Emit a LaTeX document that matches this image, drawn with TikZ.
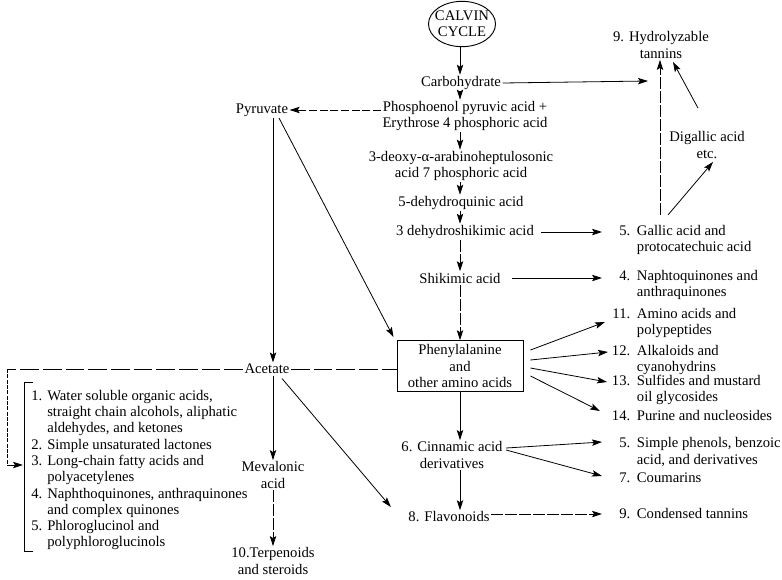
\documentclass[tikz,border=0pt]{standalone}
\usepackage{fontspec}
\setmainfont{Liberation Serif}
\usetikzlibrary{arrows.meta,calc,shapes.geometric}
\newcommand\nb[1]{\makebox[18pt][r]{#1}\hspace{5pt}}
\newcommand\ind{\makebox[23pt]{}}
\newcommand\nl[1]{\makebox[12pt][l]{#1}}
\newcommand\il{\makebox[12pt]{}}
\begin{document}
\begin{tikzpicture}[x=0.75pt,y=-0.75pt,
  every node/.style={font=\fontsize{11}{12.2}\selectfont, inner sep=1pt},
  lbl/.style={align=center},
  itm/.style={align=left, anchor=west, inner sep=0pt},
  arr/.style={-{Stealth[length=7.5pt,width=4.8pt,inset=1.5pt]}, line width=0.6pt},
  ln/.style={line width=0.6pt},
  brk/.style={dash pattern=on 9pt off 1.5pt},
  dsh/.style={dash pattern=on 6pt off 2pt},
  lng/.style={dash pattern=on 14pt off 3pt}]
\useasboundingbox[fill=white] (0,0) rectangle (782,579);

% main column
\node[ellipse, draw, line width=0.7pt, inner xsep=-2.5pt, inner ysep=0pt, minimum height=34pt, align=center] (calvin) at (462,24) {CALVIN\\CYCLE};
\node (carb) at (461,83) {Carbohydrate};
\node[lbl] (pep) at (465,116) {Phosphoenol pyruvic acid +\\Erythrose 4 phosphoric acid};
\node[lbl] (dahp) at (461,166) {3-deoxy-α-arabinoheptulosonic\\acid 7 phosphoric acid};
\node (dhq) at (461,203) {5-dehydroquinic acid};
\node (dhs) at (465,232) {3 dehydroshikimic acid};
\node (shik) at (460,278) {Shikimic acid};
\node[draw, line width=0.7pt, minimum width=94.5pt, minimum height=38pt, align=center] (phe) at (460,366) {Phenylalanine\\and\\other amino acids};
\node[lbl] (cin) at (452,455) {6. Cinnamic acid\\derivatives};
\node (flav) at (449,517) {8. Flavonoids};

% left column
\node (pyr) at (262,110) {Pyruvate};
\node (ace) at (267,369) {Acetate};
\node[lbl] (mev) at (273,475) {Mevalonic\\acid};
\node[lbl] (terp) at (273,561) {10.Terpenoids\\and steroids};

% right column
\node[lbl] (hyd) at (661,45) {9. Hydrolyzable\\tannins};
\node[lbl] (dig) at (707,145) {Digallic acid\\etc.};
\node[itm] (gal) at (606,240) {\nb{5.}Gallic acid and\\\ind protocatechuic acid};
\node[itm] (nap) at (606,285) {\nb{4.}Naphtoquinones and\\\ind anthraquinones};
\node[itm] (i11) at (606,323) {\nb{11.}Amino acids and\\\ind polypeptides};
\node[itm] (i12) at (606,360) {\nb{12.}Alkaloids and\\\ind cyanohydrins};
\node[itm] (i13) at (606,390) {\nb{13.}Sulfides and mustard\\\ind oil glycosides};
\node[itm] (i14) at (606,416) {\nb{14.}Purine and nucleosides};
\node[itm] (sp) at (606,452) {\nb{5.}Simple phenols, benzoic\\\ind acid, and derivatives};
\node[itm] (cou) at (606,478) {\nb{7.}Coumarins};
\node[itm] (ct) at (606,514) {\nb{9.}Condensed tannins};

% left list
\node[anchor=north west, inner sep=0pt, align=left] (lst) at (31,390) {%
\nl{1.}Water soluble organic acids,\\
\il straight chain alcohols, aliphatic\\
\il aldehydes, and ketones\\
\nl{2.}Simple unsaturated lactones\\
\nl{3.}Long-chain fatty acids and\\
\il polyacetylenes\\
\nl{4.}Naphthoquinones, anthraquinones\\
\il and complex quinones\\
\nl{5.}Phloroglucinol and\\
\il polyphloroglucinols};
\draw[line width=0.7pt] ($(lst.north west)+(2,-8)$) -| ($(lst.south west)+(-7,1)$) -- ++(9,0);

% coordinates for free ends
\coordinate (ce) at (648,81);
\coordinate (lc) at (7,465);
\coordinate (gv) at ($(gal.north west)+(54,-10)$);

% main chain arrows
\draw[arr] (calvin.south -| phe) -- (carb.north -| phe);
\draw[arr] (carb.south -| phe) -- (pep.north -| phe);
\draw[arr] (pep.south -| phe) -- (dahp.north -| phe);
\draw[arr] (dahp.south -| phe) -- (dhq.north -| phe);
\draw[arr] (dhq.south -| phe) -- (dhs.north -| phe);
\draw[arr,brk] (dhs.south -| phe) -- (shik.north -| phe);
\draw[arr,brk] (shik.south -| phe) -- (phe.north);
\draw[arr] (phe.south) -- (cin.north -| phe);
\draw[arr] (cin.south -| phe) -- (flav.north -| phe);

% pyruvate / acetate
\draw[arr,dsh] (pep.west |- pyr.east) -- (pyr.east);
\draw[arr] ($(pyr.south)+(11,0)$) -- ($(ace.north)+(6,0)$);
\draw[arr] ($(pyr.south)+(17,0)$) -- ($(phe.north west)+(-3,-3)$);
\draw[ln,lng] (ace.east) -- (ace.east -| phe.west);
\draw[ln,lng] (ace.west) -- (ace.west -| lc);
\draw[ln,dash pattern=on 3pt off 1pt] (ace.west -| lc) -- (lc);
\draw[arr] (lc) -- ($(lst.west |- lc)+(-8,0)$);
\draw[arr] ($(ace.south)+(6,0)$) -- (mev.north);
\draw[arr] ($(ace.south)+(15,3)$) -- ($(flav.west)+(-16,-10)$);
\draw[arr,brk] (mev.south) -- (terp.north);

% right side arrows
\draw[arr] (carb.east) -- (ce);
\draw[arr,brk] (gv) -- (gv |- hyd.south);
\draw[arr] ($(gal.north west)+(62,-10)$) -- ($(dig.south)+(6,2)$);
\draw[arr] ($(dig.north)+(-9,-22)$) -- ($(hyd.south)+(12,2)$);
\draw[arr] ($(dhs.east)+(6,0)$) -- ($(dhs.east -| gal.west)+(-4,0)$);
\draw[arr] ($(shik.east)+(10,0)$) -- ($(shik.east -| nap.west)+(-4,0)$);
\draw[arr] ($(phe.east)+(7,-16)$) -- ($(i11.west)+(-1,-1)$);
\draw[arr] ($(phe.east)+(7,-6)$) -- ($(i12.west)+(2,-8)$);
\draw[arr] ($(phe.east)+(7,2)$) -- ($(i13.west)+(1,-8)$);
\draw[arr] ($(phe.east)+(7,10)$) -- ($(i14.west)+(-6,-5)$);
\draw[arr] ($(cin.east)+(2,-7)$) -- ($(sp.west)+(-4,-10)$);
\draw[arr] ($(cin.east)+(2,-5)$) -- ($(cou.west)+(-4,-2)$);
\draw[arr,brk] (flav.east |- ct.west) -- ($(ct.west)+(-4,0)$);
\end{tikzpicture}
\end{document}
